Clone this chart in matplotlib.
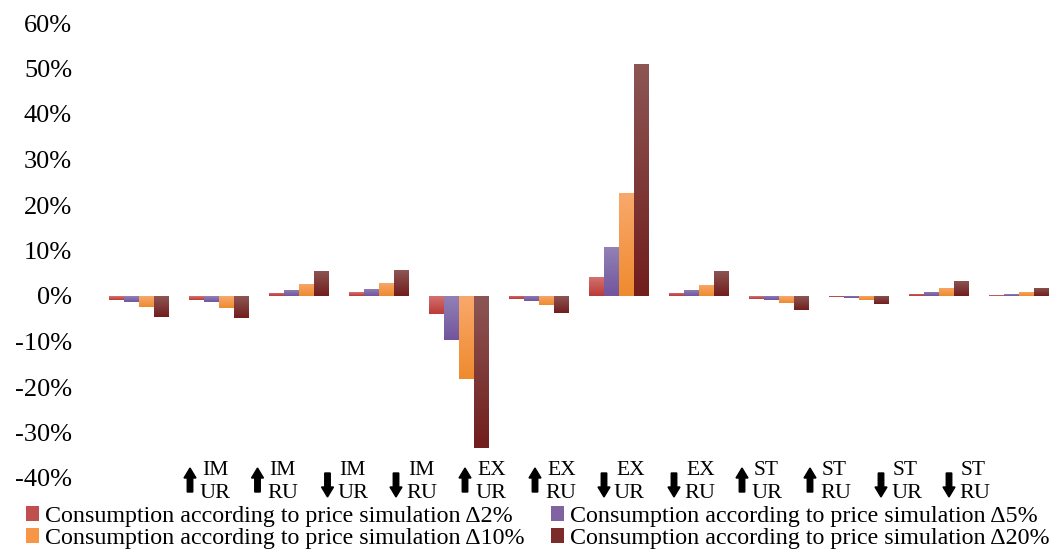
import matplotlib
matplotlib.use("Agg")
import matplotlib.pyplot as plt
import numpy as np
from matplotlib.colors import LinearSegmentedColormap
from matplotlib.patches import FancyArrow, Patch
from matplotlib.transforms import IdentityTransform

# ---------------- data ----------------
arrows = ["up", "up", "down", "down", "up", "up", "down", "down", "up", "up", "down", "down"]
sup_labels = ["IM", "IM", "IM", "IM", "EX", "EX", "EX", "EX", "ST", "ST", "ST", "ST"]
sub_labels = ["UR", "RU", "UR", "RU", "UR", "RU", "UR", "RU", "UR", "RU", "UR", "RU"]

series_names = [
    "Consumption according to price simulation \u03942%",
    "Consumption according to price simulation \u03945%",
    "Consumption according to price simulation \u039410%",
    "Consumption according to price simulation \u039420%",
]
d2 = [-0.8, -0.8, 0.7, 0.8, -4.0, -0.7, 4.2, 0.7, -0.6, -0.3, 0.5, 0.2]
d5 = [-1.3, -1.3, 1.4, 1.6, -9.7, -1.1, 10.8, 1.4, -0.9, -0.5, 0.9, 0.4]
d10 = [-2.4, -2.6, 2.7, 2.9, -18.3, -2.0, 22.6, 2.5, -1.5, -0.9, 1.8, 0.9]
d20 = [-4.6, -4.8, 5.5, 5.7, -33.5, -3.7, 51.0, 5.5, -3.0, -1.8, 3.4, 1.8]
series = [d2, d5, d10, d20]

y_ticks = [-40, -30, -20, -10, 0, 10, 20, 30, 40, 50, 60]

# ---------------- style ----------------
base_colors = ["#C0504D", "#8064A2", "#F79646", "#7B2C2A"]
grad_top = ["#D27573", "#9282B6", "#F9A86C", "#8C5654"]
grad_bot = ["#BC3A37", "#72559D", "#EE8B2E", "#711E1D"]

FONT = "Liberation Serif"
plt.rcParams["font.family"] = [FONT, "DejaVu Sans"]

W, H = 1052, 558
fig = plt.figure(figsize=(W / 100, H / 100), dpi=100)

# axes placement in pixels (top-based)
ax_left, ax_right = 98.5, 1058.5
ax_top, ax_bottom = 23, 478
ax = fig.add_axes([ax_left / W, (H - ax_bottom) / H,
                   (ax_right - ax_left) / W, (ax_bottom - ax_top) / H])

n = len(d2)
x = np.arange(n)
bw = 0.1875
offsets = [-1.5, -0.5, 0.5, 1.5]

for i, vals in enumerate(series):
    bars = ax.bar(x + offsets[i] * bw, vals, width=bw, color=base_colors[i],
                  edgecolor="none", zorder=2, label=series_names[i])
    cmap = LinearSegmentedColormap.from_list("g%d" % i, [grad_top[i], grad_bot[i]])
    grad = np.linspace(0, 1, 64).reshape(-1, 1)
    for b in bars:
        bx, by = b.get_x(), b.get_y()
        bwid, bh = b.get_width(), b.get_height()
        y0, y1 = min(by, by + bh), max(by, by + bh)
        im = ax.imshow(grad, cmap=cmap, extent=[bx, bx + bwid, y0, y1],
                       aspect="auto", origin="upper", zorder=3,
                       interpolation="bilinear")
        im.set_clip_path(b)

ax.set_xlim(-0.5, n - 0.5)
ax.set_ylim(-40, 60)
ax.set_yticks(y_ticks)
ax.set_yticklabels(["%d%%" % v for v in y_ticks], fontsize=19, fontfamily=FONT)
ax.tick_params(axis="y", length=0, pad=19)
ax.set_xticks([])
for s in ax.spines.values():
    s.set_visible(False)

# ---------------- custom category labels ----------------
label_cx = [190, 257.5, 327.5, 396, 465, 535, 604, 674, 742, 810, 881, 949]
for cx, a, sp, sb in zip(label_cx, arrows, sup_labels, sub_labels):
    if a == "up":
        arr = FancyArrow(cx, H - 492, 0, 24, width=5.5, head_width=12,
                         head_length=10, length_includes_head=True,
                         color="black", transform=IdentityTransform())
    else:
        arr = FancyArrow(cx, H - 473, 0, -24, width=5.5, head_width=12,
                         head_length=10, length_includes_head=True,
                         color="black", transform=IdentityTransform())
    fig.add_artist(arr)
    fig.text((cx + 12) / W, (H - 475) / H, sp, fontsize=15.5, fontfamily=FONT,
             ha="left", va="baseline")
    fig.text((cx + 10) / W, (H - 498) / H, sb, fontsize=16, fontfamily=FONT,
             ha="left", va="baseline")

# ---------------- legend ----------------
handles = [Patch(facecolor=base_colors[i], edgecolor="none") for i in range(4)]
order = [0, 2, 1, 3]
fig.legend([handles[i] for i in order], [series_names[i] for i in order],
           loc="upper left", bbox_to_anchor=(26 / W, (H - 506) / H),
           ncol=2, frameon=False, prop={"family": FONT, "size": 17.3},
           handlelength=0.55, handleheight=0.55, handletextpad=0.25,
           columnspacing=1.1, labelspacing=0.05, borderpad=0, borderaxespad=0)

fig.savefig("out.png", dpi=100)
